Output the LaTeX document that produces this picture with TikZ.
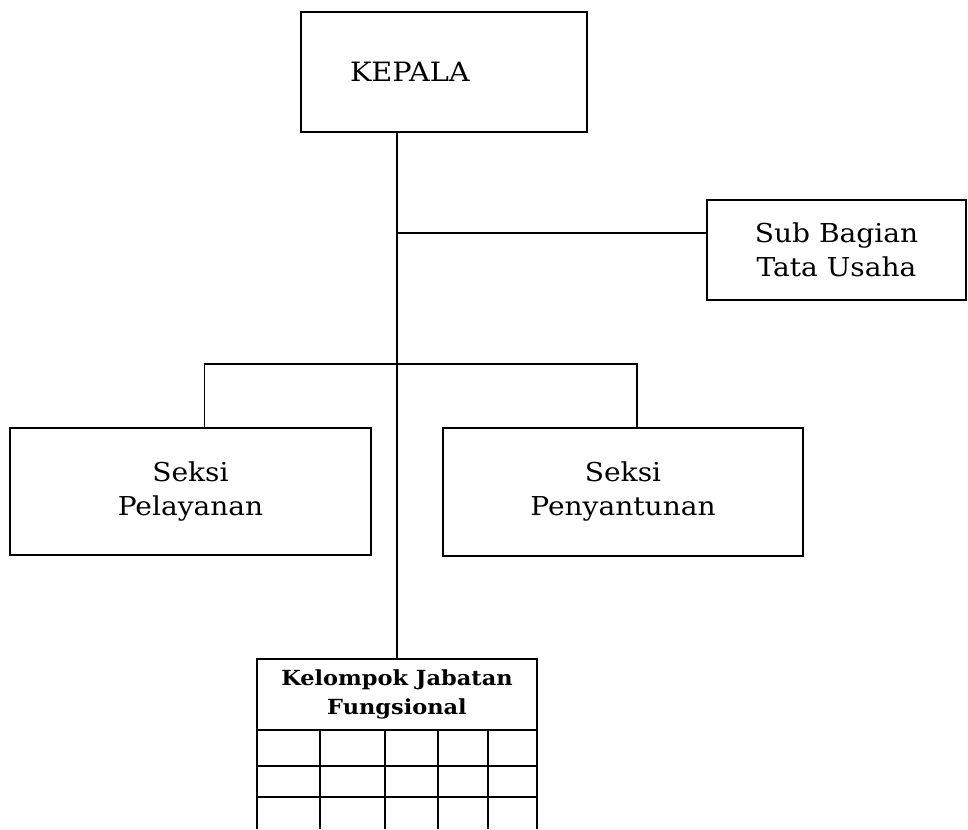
\documentclass[tikz,border=0pt]{standalone}
\usepackage{fontspec}
\setmainfont{DejaVu Serif}[FakeStretch=1.08]
\usetikzlibrary{positioning}
\newlength\pxl \setlength\pxl{0.5pt}

\begin{document}
\begin{tikzpicture}[x=0.5pt, y=-0.5pt, line width=0.8pt,
  kotak/.style={draw, line width=0.9pt, align=center, inner sep=0pt},
  teks/.style={font=\fontsize{13}{17}\selectfont}]
\useasboundingbox (0,0) rectangle (968,829);
% kotak-kotak
\node[kotak, minimum width=286\pxl, minimum height=120\pxl, text width=188\pxl, align=left, font=\fontsize{13.3}{17}\selectfont] (kepala) at (444,72) {KEPALA};
\node[kotak, teks, minimum width=259\pxl, minimum height=100\pxl] (tatausaha) at (836.5,250) {Sub Bagian\\Tata Usaha};
\node[kotak, teks, minimum width=361\pxl, minimum height=127\pxl] (pelayanan) at (190.5,491.5) {Seksi\\Pelayanan};
\node[kotak, teks, minimum width=360\pxl, minimum height=128\pxl] (penyantunan) at (623,492) {Seksi\\Penyantunan};
\node[kotak, minimum width=280\pxl, minimum height=71\pxl, font=\bfseries\fontsize{10.4}{14.5}\selectfont] (fungsional) at (397,694.5) {Kelompok Jabatan\\Fungsional};
% tabel
\foreach \x in {257,320,385,438,488,537}
  \draw (\x,730) -- (\x,829);
\foreach \y in {766,797}
  \draw (257,\y) -- (537,\y);
% garis
\coordinate (cabang) at (397,364);
\coordinate (tu) at (397,233);
\draw (kepala.south -| fungsional.north) -- (fungsional.north);
\draw (tu) -- (tu -| tatausaha.west);
\draw ([xshift=14\pxl]pelayanan.north) |- (cabang) -| ([xshift=14\pxl]penyantunan.north);
\end{tikzpicture}
\end{document}
